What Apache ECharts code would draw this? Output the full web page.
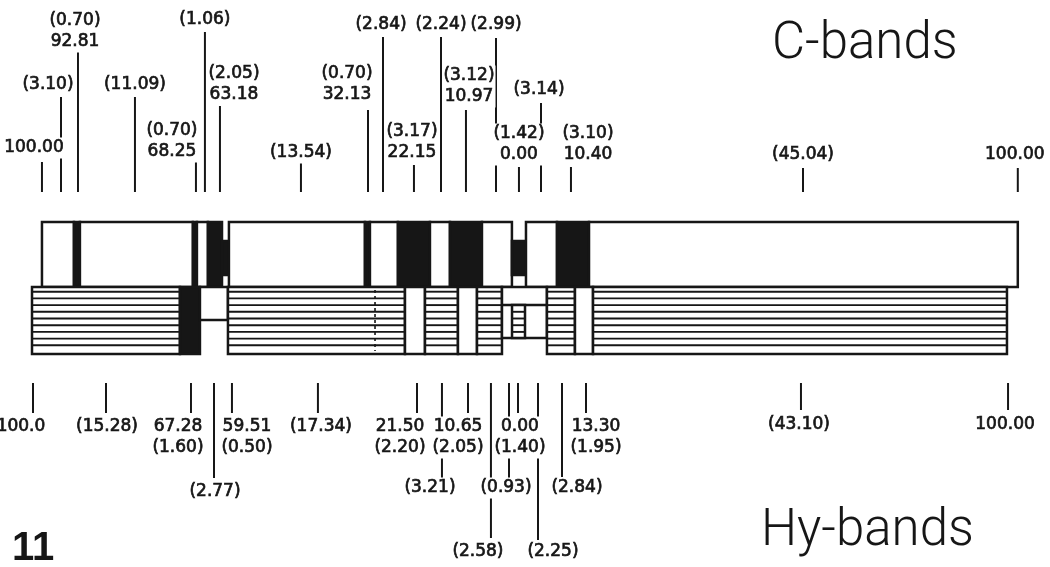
<!DOCTYPE html>
<html>
<head>
<meta charset="utf-8">
<style>
html, body { margin: 0; padding: 0; background: #fff; }
#container { width: 1050px; height: 567px; }
</style>
<script src="https://cdn.jsdelivr.net/npm/echarts@6/dist/echarts.min.js"></script>
</head>
<body>
<div id="container"></div>
<script>
var dom = document.getElementById('container');
var myChart = echarts.init(dom, null, { renderer: 'canvas' });

// positions along the chromosome, relative length (C-band bar: 0 .. 100)
// C-bands: band edges and kind of each band (w = pale, b = dark, bn = dark constriction)
var cEdges = [0, 3.28, 3.89, 15.47, 15.88, 17.01, 18.45, 19.16, 33.10, 33.61, 36.48,
              39.76, 41.81, 45.09, 48.16, 49.60, 52.78, 56.06, 100];
var cKinds = ['w', 'b', 'w', 'b', 'w', 'b', 'bn', 'w', 'b', 'w', 'b', 'w', 'b', 'w', 'bn', 'w', 'b', 'w'];

// Hy-bands: h = hatched, b = dark, w = pale, wn = pale constriction, c = centromere
var hyEdges = [-1.02, 14.14, 16.19, 19.06, 37.20, 39.25, 42.63, 44.58, 47.14, 51.75, 54.62, 56.47, 98.89];
var hyKinds = ['h', 'b', 'wn', 'h', 'w', 'h', 'w', 'h', 'c', 'h', 'w', 'h'];
var hyInner = [48.17, 49.50];   // hatched piece inside the centromere
var hyFaint = [34.13];          // faint boundary inside the hatched block

// tick marks and their labels
var cTicks = [0, 1.95, 3.69, 9.53, 15.78, 16.70, 18.24, 26.54, 33.41, 34.95, 38.12,
              40.89, 43.45, 46.53, 48.88, 51.14, 54.21, 77.99, 100];
var cLabels = ['100.00', '(3.10)', '(0.70)\n92.81', '(11.09)', '(0.70)\n68.25', '(1.06)',
               '(2.05)\n63.18', '(13.54)', '(0.70)\n32.13', '(2.84)', '(3.17)\n22.15', '(2.24)',
               '(3.12)\n10.97', '(2.99)', '(1.42)\n0.00', '(3.14)', '(3.10)\n10.40', '(45.04)', '100.00'];
var hyTicks = [-0.92, 6.56, 15.27, 17.63, 19.47, 28.28, 38.43, 40.99, 43.66, 46.01, 47.86,
               48.78, 50.83, 53.29, 55.75, 77.78, 99.0];
var hyLabels = ['100.0', '(15.28)', '67.28\n(1.60)', '(2.77)', '59.51\n(0.50)', '(17.34)',
                '21.50\n(2.20)', '(3.21)', '10.65\n(2.05)', '(2.58)', '(0.93)', '0.00\n(1.40)',
                '(2.25)', '(2.84)', '13.30\n(1.95)', '(43.10)', '100.00'];

// layout, in pixels
var INK = '#161616';
var FONT = '17px "DejaVu Sans"';
var L = {
    cTop: 222, cBot: 287, notchTop: 241, notchBot: 275,
    hyTop: 287, hyBot: 354, hyNarrowBot: 320, cenMid: 305, cenBot: 338,
    hatch0: 291.7, hatchStep: 6.7,
    cTickBot: 192, hyTickTop: 383, lineH: 21
};
var cTickTop = [162, 97, 52, 97, 162, 32, 106, 163, 110, 37, 165, 37, 110, 38, 167, 103, 167, 168, 168];
var cLabelDx = [-8, -13, -3, 0, -24, 0, 14, 0, -21, -2, -2, 0, 3, 0, 0, -2, 17, 0, -3];
var cLabelY = [148, 85, 42, 85, 152, 20, 95, 153, 95, 25, 153, 25, 97, 25, 155, 90, 155, 155, 155];
var hyTickBot = [413, 413, 413, 478, 413, 413, 413, 478, 413, 538, 478, 413, 540, 477, 413, 410, 410];
var hyLabelDx = [-12, 1, -13, 1, 15, 3, -17, -12, -10, -13, -3, 2, 15, 15, 10, -2, -3];
var hyLabelY = [427, 427, 427, 492, 427, 427, 427, 488, 427, 552, 488, 427, 552, 488, 427, 425, 425];

function px(api, v) { return api.coord([v, 0])[0]; }

function hatch(x0, x1, top, bot) {
    var out = [];
    for (var y = L.hatch0; y <= L.hyBot - 5; y += L.hatchStep) {
        if (y > top + 2 && y < bot - 2) {
            out.push({ type: 'line', shape: { x1: x0 + 1, y1: y, x2: x1 - 1, y2: y },
                       style: { stroke: INK, lineWidth: 1.9 } });
        }
    }
    return out;
}

function box(x0, x1, top, bot, fill) {
    return { type: 'rect', shape: { x: x0, y: top, width: x1 - x0, height: bot - top },
             style: { fill: fill, stroke: INK, lineWidth: 2.5 } };
}

function cBandItem(params, api) {
    var x0 = px(api, api.value(0)), x1 = px(api, api.value(1));
    var kind = cKinds[api.value(2)];
    if (kind === 'bn') return box(x0, x1, L.notchTop, L.notchBot, INK);
    return box(x0, x1, L.cTop, L.cBot, kind === 'w' ? '#fff' : INK);
}

function hyBandItem(params, api) {
    var x0 = px(api, api.value(0)), x1 = px(api, api.value(1));
    var kind = hyKinds[api.value(2)];
    var ch = [];
    if (kind === 'wn') {
        ch.push(box(x0, x1, L.hyTop, L.hyNarrowBot, '#fff'));
    } else if (kind === 'c') {
        ch.push(box(x0, x1, L.hyTop, L.cenBot, '#fff'));
        ch.push({ type: 'line', shape: { x1: x0, y1: L.cenMid, x2: x1, y2: L.cenMid },
                  style: { stroke: INK, lineWidth: 2.5 } });
    } else {
        ch.push(box(x0, x1, L.hyTop, L.hyBot, kind === 'b' ? INK : '#fff'));
        if (kind === 'h') ch = ch.concat(hatch(x0, x1, L.hyTop, L.hyBot));
    }
    return { type: 'group', children: ch };
}

function hyInnerItem(params, api) {
    var x0 = px(api, api.value(0)), x1 = px(api, api.value(1));
    return { type: 'group', children: [box(x0, x1, L.cenMid, L.cenBot, '#fff')]
             .concat(hatch(x0, x1, L.cenMid, L.cenBot)) };
}

function faintItem(params, api) {
    var x = px(api, api.value(0));
    return { type: 'line', shape: { x1: x, y1: L.hyTop + 3, x2: x, y2: L.hyBot - 3 },
             style: { stroke: INK, lineWidth: 1.6, lineDash: [3, 3] } };
}

function tickItem(top) {
    return function (params, api) {
        var x = px(api, api.value(0));
        var i = api.value(1);
        var y1 = top ? cTickTop[i] : L.hyTickTop;
        var y2 = top ? L.cTickBot : hyTickBot[i];
        return { type: 'line', shape: { x1: x, y1: y1, x2: x, y2: y2 },
                 style: { stroke: INK, lineWidth: 2 } };
    };
}

// labels sit on a white box, so long ticks look broken where a label crosses them
function labelItem(top) {
    return function (params, api) {
        var x = px(api, api.value(0));
        var i = api.value(1);
        var text = top ? cLabels[i] : hyLabels[i];
        var y = top ? cLabelY[i] + L.lineH / 2 : hyLabelY[i] - L.lineH / 2;
        var va = top ? 'bottom' : 'top';
        return { type: 'text', x: x + (top ? cLabelDx[i] : hyLabelDx[i]), y: y,
                 style: { text: text, font: FONT, fill: INK, stroke: INK, lineWidth: 0.7,
                          lineHeight: L.lineH,
                          align: 'center', textAlign: 'center',
                          verticalAlign: va, textVerticalAlign: va,
                          backgroundColor: '#fff', padding: [0, 1] } };
    };
}

function spans(edges) {
    var d = [];
    for (var i = 0; i < edges.length - 1; i++) d.push([edges[i], edges[i + 1], i]);
    return d;
}

var titleFont = { fontFamily: 'Roboto', fontWeight: 300, fontSize: 51, color: INK };

var option = {
    backgroundColor: '#fff',
    animation: false,
    title: [
        { text: 'C-bands', left: 772, top: 20, padding: 0, textStyle: titleFont },
        { text: 'Hy-bands', left: 761, top: 507, padding: 0, textStyle: titleFont },
        { text: '11', left: 12, top: 529, padding: 0,
          textStyle: { fontFamily: 'Liberation Sans', fontWeight: 'bold', fontSize: 40, color: INK } }
    ],
    grid: { left: 0, right: 0, top: 0, bottom: 0 },
    xAxis: { type: 'value', min: -4.3, max: 103.3, show: false },
    yAxis: { type: 'value', min: 0, max: 1, show: false },
    series: [
        { type: 'custom', z: 2, renderItem: cBandItem, encode: { x: [0, 1] }, data: spans(cEdges) },
        { type: 'custom', z: 2, renderItem: hyBandItem, encode: { x: [0, 1] }, data: spans(hyEdges) },
        { type: 'custom', z: 3, renderItem: hyInnerItem, encode: { x: [0, 1] }, data: [hyInner] },
        { type: 'custom', z: 3, renderItem: faintItem, encode: { x: 0 }, data: hyFaint.map(function (v) { return [v]; }) },
        { type: 'custom', z: 4, renderItem: tickItem(true), encode: { x: 0 },
          data: cTicks.map(function (v, i) { return [v, i]; }) },
        { type: 'custom', z: 4, renderItem: tickItem(false), encode: { x: 0 },
          data: hyTicks.map(function (v, i) { return [v, i]; }) },
        { type: 'custom', z: 5, renderItem: labelItem(true), encode: { x: 0 },
          data: cTicks.map(function (v, i) { return [v, i]; }) },
        { type: 'custom', z: 5, renderItem: labelItem(false), encode: { x: 0 },
          data: hyTicks.map(function (v, i) { return [v, i]; }) }
    ]
};

myChart.setOption(option);
window.addEventListener('resize', myChart.resize);
</script>
</body>
</html>
